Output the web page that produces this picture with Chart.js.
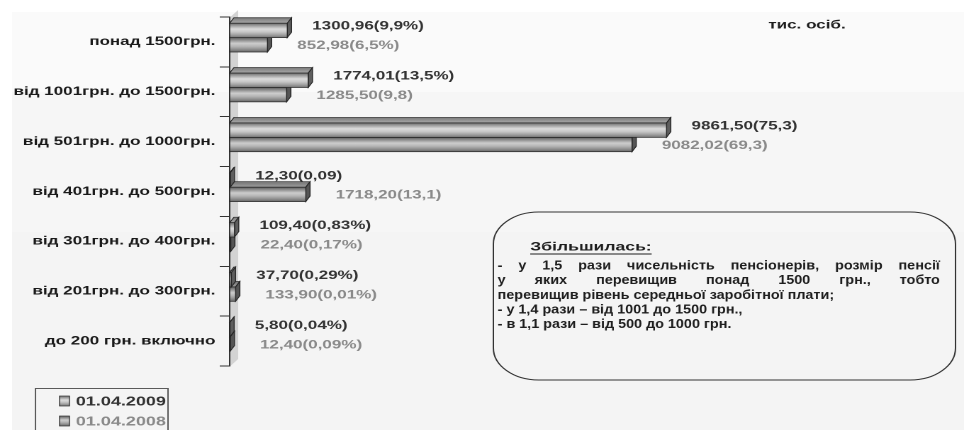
<!DOCTYPE html>
<html lang="uk">
<head>
<meta charset="utf-8">
<title>Розподіл пенсіонерів за розміром пенсії</title>
<script src="https://cdn.jsdelivr.net/npm/chart.js@4.4.1/dist/chart.umd.min.js"></script>
<style>
  html, body { margin: 0; padding: 0; background: #fff; overflow: hidden; }
  /* the original picture is a 680px wide slide stretched to 964px */
  #wrap { width: 680px; height: 430px; transform: scaleX(1.41765); transform-origin: 0 0; }
</style>
</head>
<body>
<div id="wrap"><canvas id="chart" width="680" height="430"></canvas></div>
<script>
// Дані
const categories = [
  'понад 1500грн.',
  'від 1001грн. до 1500грн.',
  'від 501грн. до 1000грн.',
  'від 401грн. до 500грн.',
  'від 301грн. до 400грн.',
  'від 201грн. до 300грн.',
  'до 200 грн. включно'
];
const seriesNames = ['01.04.2009', '01.04.2008'];
const values2009 = [1300.96, 1774.01, 9861.50, 12.30, 109.40, 37.70, 5.80];
const values2008 = [852.98, 1285.50, 9082.02, 1718.20, 22.40, 133.90, 12.40];
const labels2009 = ['1300,96(9,9%)', '1774,01(13,5%)', '9861,50(75,3)', '12,30(0,09)', '109,40(0,83%)', '37,70(0,29%)', '5,80(0,04%)'];
const labels2008 = ['852,98(6,5%)', '1285,50(9,8)', '9082,02(69,3)', '1718,20(13,1)', '22,40(0,17%)', '133,90(0,01%)', '12,40(0,09%)'];
const unitText = 'тис. осіб.';
const noteTitle = 'Збільшилась:';
const noteParagraph = [
  '- у 1,5 рази чисельність пенсіонерів, розмір пенсії',
  'у яких перевищив понад 1500 грн., тобто',
  'перевищив рівень середньої заробітної плати;'
];
const noteLines = ['- у 1,4 рази – від 1001 до 1500 грн.,', '- в 1,1 рази – від 500 до 1000 грн.'];

// Стилі
const FONT = '"Liberation Sans", Arial, sans-serif';
const DX = 3, DY = 5.5, LIFT = 4.3;
const barStyles = [
  { front: ['#6c6c6c', '#a6a6a6', '#dcdcdc', '#c8c8c8', '#a2a2a2', '#747474'], top: ['#7c7c7c', '#a9a9a9'], side: '#5e5e5e' },
  { front: ['#5e5e5e', '#959595', '#cdcdcd', '#b7b7b7', '#929292', '#676767'], top: ['#747474', '#9e9e9e'], side: '#555555' }
];
const labelColors = ['#333333', '#8a8a8a'];
const labelGap = [17.6, 21];
const labelShift = [-4, 1];

function vGrad(ctx, y0, y1, stops) {
  const g = ctx.createLinearGradient(0, y0, 0, y1);
  stops.forEach((c, i) => g.addColorStop(i / (stops.length - 1), c));
  return g;
}

// Фон слайда
const background = {
  id: 'background',
  beforeDraw(chart) {
    const ctx = chart.ctx;
    ctx.save();
    ctx.fillStyle = '#ffffff';
    ctx.fillRect(0, 0, chart.width, chart.height);
    ctx.fillStyle = '#fafafa';
    ctx.fillRect(8.5, 12, chart.width, 80);
    ctx.fillStyle = '#f6f6f6';
    ctx.fillRect(8.5, 92, chart.width, 140);
    ctx.fillStyle = '#f4f4f4';
    ctx.fillRect(8.5, 232, chart.width, 200);
    ctx.restore();
  }
};

// Об'ємні стовпці, стінка та підписи даних
const bars3d = {
  id: 'bars3d',
  beforeDatasetsDraw(chart) {
    const ctx = chart.ctx;
    const a = chart.chartArea;
    ctx.save();
    ctx.fillStyle = '#d3d3d3';
    ctx.beginPath();
    ctx.moveTo(a.left + 0.5, a.top);
    ctx.lineTo(a.left + 6, a.top - 7);
    ctx.lineTo(a.left + 6, a.bottom - 7);
    ctx.lineTo(a.left + 0.5, a.bottom);
    ctx.closePath();
    ctx.fill();
    ctx.restore();
  },
  afterDatasetsDraw(chart) {
    const ctx = chart.ctx;
    ctx.save();
    ctx.lineWidth = 0.7;
    ctx.strokeStyle = '#262626';
    categories.forEach((c, i) => {
      [1, 0].forEach(d => {
        const el = chart.getDatasetMeta(d).data[i];
        const st = barStyles[d];
        const x0 = el.base, x1 = el.x;
        const yT = el.y - el.height / 2 - LIFT, yB = el.y + el.height / 2 - LIFT;
        // верхня грань
        ctx.beginPath();
        ctx.moveTo(x0, yT);
        ctx.lineTo(x0 + DX, yT - DY);
        ctx.lineTo(x1 + DX, yT - DY);
        ctx.lineTo(x1, yT);
        ctx.closePath();
        ctx.fillStyle = vGrad(ctx, yT - DY, yT, st.top);
        ctx.fill();
        ctx.stroke();
        // бічна грань
        ctx.beginPath();
        ctx.moveTo(x1, yT);
        ctx.lineTo(x1 + DX, yT - DY);
        ctx.lineTo(x1 + DX, yB - DY);
        ctx.lineTo(x1, yB);
        ctx.closePath();
        ctx.fillStyle = st.side;
        ctx.fill();
        ctx.stroke();
        // передня грань
        ctx.fillStyle = vGrad(ctx, yT, yB, st.front);
        ctx.fillRect(x0, yT, x1 - x0, yB - yT);
        ctx.strokeRect(x0, yT, x1 - x0, yB - yT);
      });
    });
    // підписи
    ctx.font = 'bold 12px ' + FONT;
    ctx.textBaseline = 'middle';
    ctx.textAlign = 'left';
    [labels2009, labels2008].forEach((texts, d) => {
      const meta = chart.getDatasetMeta(d);
      ctx.fillStyle = labelColors[d];
      texts.forEach((t, i) => {
        const el = meta.data[i];
        ctx.fillText(t, el.x + labelGap[d], el.y - LIFT + labelShift[d]);
      });
    });
    ctx.restore();
  }
};

// Одиниці, примітка, легенда
const extras = {
  id: 'extras',
  afterDraw(chart) {
    const ctx = chart.ctx;
    ctx.save();
    ctx.fillStyle = '#1e1e1e';
    ctx.textBaseline = 'middle';
    ctx.font = 'bold 12px ' + FONT;
    ctx.fillText(unitText, 542, 25);

    // примітка в рамці
    ctx.strokeStyle = '#333';
    ctx.lineWidth = 1;
    ctx.beginPath();
    ctx.roundRect(348, 212, 326, 168, 32);
    ctx.stroke();

    ctx.font = 'bold 12.4px ' + FONT;
    ctx.fillStyle = '#1e1e1e';
    ctx.fillText(noteTitle, 374, 247);
    const tw = ctx.measureText(noteTitle).width;
    ctx.fillRect(374, 253.5, tw, 1);

    ctx.font = 'bold 13px ' + FONT;
    const sx = 0.78, left = 351, right = 663, step = 14.6;
    ctx.save();
    ctx.scale(sx, 1);
    const drawLine = (text, y, justify) => {
      const words = text.split(' ');
      if (!justify) { ctx.fillText(text, left / sx, y); return; }
      const widths = words.map(w => ctx.measureText(w).width);
      const free = (right - left) / sx - widths.reduce((s, w) => s + w, 0);
      let x = left / sx;
      words.forEach((w, k) => {
        ctx.fillText(w, x, y);
        x += widths[k] + free / (words.length - 1);
      });
    };
    noteParagraph.forEach((t, k) => drawLine(t, 266 + k * step, k < noteParagraph.length - 1));
    noteLines.forEach((t, k) => drawLine(t, 266 + (noteParagraph.length + k) * step, false));
    ctx.restore();

    // легенда
    ctx.strokeStyle = '#5a5a5a';
    ctx.lineWidth = 1;
    ctx.strokeRect(25, 388.5, 93.5, 60);
    ctx.font = 'bold 12.7px ' + FONT;
    chart.data.datasets.forEach((ds, i) => {
      const y = 401 + i * 20;
      ctx.fillStyle = vGrad(ctx, y - 5, y + 5, barStyles[i].front);
      ctx.fillRect(42, y - 5, 7, 10);
      ctx.lineWidth = 0.7;
      ctx.strokeStyle = '#333';
      ctx.strokeRect(42, y - 5, 7, 10);
      ctx.fillStyle = labelColors[i];
      ctx.fillText(ds.label, 53.5, y + 1);
    });
    ctx.restore();
  }
};

new Chart(document.getElementById('chart'), {
  type: 'bar',
  data: {
    labels: categories,
    datasets: [
      { label: seriesNames[0], data: values2009, backgroundColor: 'rgba(0,0,0,0)', borderColor: 'rgba(0,0,0,0)', borderWidth: 0 },
      { label: seriesNames[1], data: values2008, backgroundColor: 'rgba(0,0,0,0)', borderColor: 'rgba(0,0,0,0)', borderWidth: 0 }
    ]
  },
  options: {
    indexAxis: 'y',
    responsive: false,
    devicePixelRatio: 2,
    animation: false,
    events: [],
    layout: { padding: { left: 0, top: 17, right: 18, bottom: 64 } },
    datasets: {
      bar: { categoryPercentage: 0.577, barPercentage: 1 }
    },
    scales: {
      x: { display: false, min: 0, max: 16000 },
      y: {
        afterFit(scale) { scale.width = 162; },
        grid: { drawOnChartArea: false, drawTicks: true, tickLength: 7, color: '#333', offset: true },
        border: { display: true, color: '#333', width: 1 },
        ticks: { color: '#1a1a1a', padding: 3, font: { family: FONT, size: 12, weight: 'bold' } }
      }
    },
    plugins: {
      colors: { enabled: false },
      legend: { display: false },
      tooltip: { enabled: false }
    }
  },
  plugins: [background, bars3d, extras]
});
</script>
</body>
</html>
